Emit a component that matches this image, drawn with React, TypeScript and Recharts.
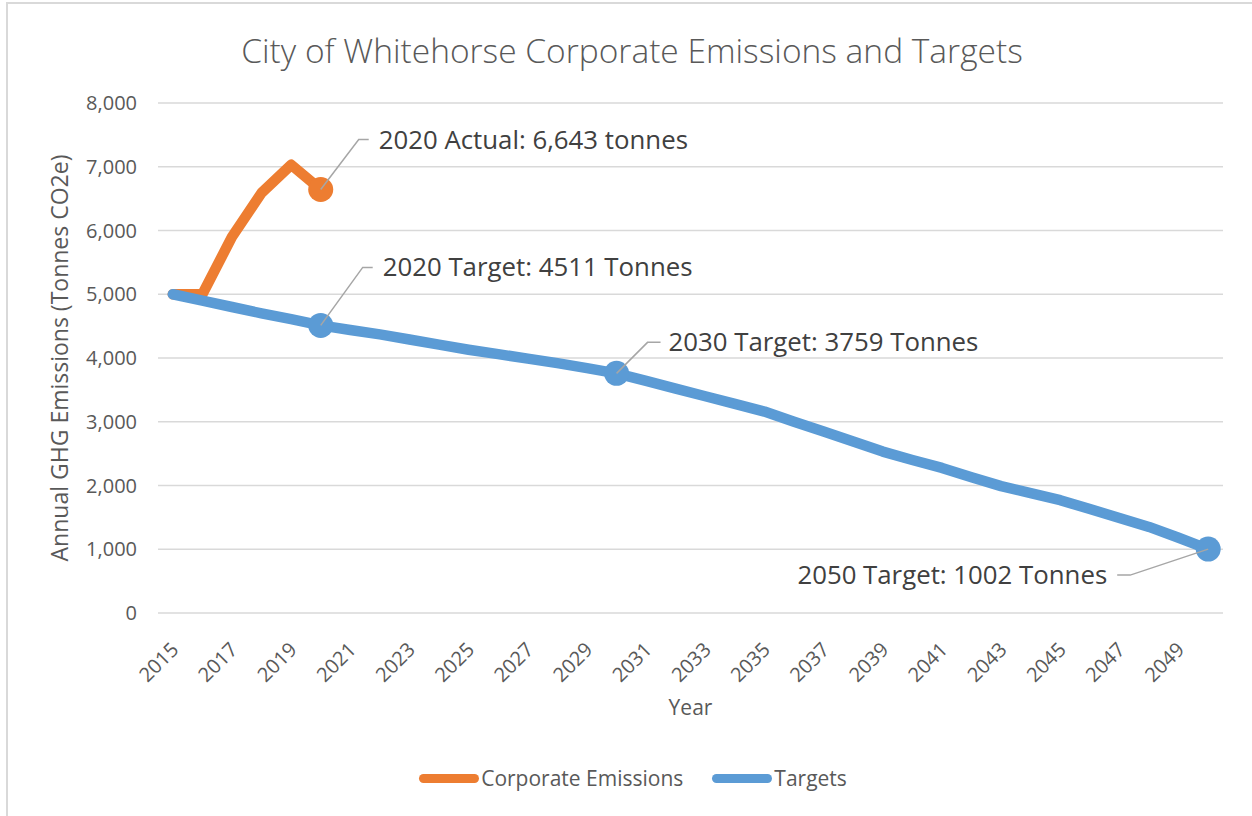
import { LineChart, Line, XAxis, YAxis, CartesianGrid, LabelList } from 'recharts'

// years on the category axis
const years = [
  '2015', '2016', '2017', '2018', '2019', '2020', '2021', '2022', '2023', '2024', '2025', '2026',
  '2027', '2028', '2029', '2030', '2031', '2032', '2033', '2034', '2035', '2036', '2037', '2038',
  '2039', '2040', '2041', '2042', '2043', '2044', '2045', '2046', '2047', '2048', '2049', '2050',
]

// actual corporate emissions (only reported to 2020)
const emissions = [5000, 5000, 5900, 6590, 7030, 6643]

// reduction targets
const targets = [
  5000, 4900, 4800, 4700, 4610, 4511, 4440, 4370, 4290, 4210, 4130, 4060,
  3990, 3920, 3840, 3759, 3640, 3520, 3400, 3280, 3160, 3000, 2846, 2690,
  2532, 2400, 2276, 2130, 1990, 1880, 1770, 1630, 1490, 1350, 1180, 1002,
]

const yTicks = [0, 1000, 2000, 3000, 4000, 5000, 6000, 7000, 8000]

const annotations = [
  { series: 'emissions', year: '2020', text: '2020 Actual: 6,643 tonnes' },
  { series: 'targets', year: '2020', text: '2020 Target: 4511 Tonnes' },
  { series: 'targets', year: '2030', text: '2030 Target: 3759 Tonnes' },
  { series: 'targets', year: '2050', text: '2050 Target: 1002 Tonnes' },
]

const seriesInfo = [
  { key: 'emissions', name: 'Corporate Emissions', color: '#ED7D31' },
  { key: 'targets', name: 'Targets', color: '#5B9BD5' },
]

const data = years.map((year, i) => ({
  year,
  emissions: i < emissions.length ? emissions[i] : null,
  targets: targets[i],
}))

// leader line bends + text offsets, relative to the labelled point
const leaderLayout: Record<string, { p1: number[]; p2: number[]; tx: number; ty: number; anchor: 'start' | 'end' }> = {
  'emissions-2020': { p1: [38, -50], p2: [48, -50], tx: 58, ty: -41, anchor: 'start' },
  'targets-2020': { p1: [42, -58], p2: [52, -58], tx: 62, ty: -49, anchor: 'start' },
  'targets-2030': { p1: [31, -31], p2: [44, -31], tx: 52, ty: -22, anchor: 'start' },
  'targets-2050': { p1: [-78, 26], p2: [-91, 26], tx: -101, ty: 35, anchor: 'end' },
}

const FONT = '"Open Sans", sans-serif'
const TEXT = '#595959'

const isAnnotated = (series: string, index: number) =>
  annotations.some((a) => a.series === series && a.year === years[index])

const makeDot = (series: string, color: string) => (props: any) => {
  const { cx, cy, index } = props
  if (!isAnnotated(series, index) || cx == null || cy == null) return <g key={`d-${series}-${index}`} />
  return <circle key={`d-${series}-${index}`} cx={cx} cy={cy} r={12.5} fill={color} />
}

const makeLabel = (series: string) => (props: any) => {
  const { x, y, index } = props
  const ann = annotations.find((a) => a.series === series && a.year === years[index])
  if (!ann || x == null || y == null) return null
  const l = leaderLayout[`${series}-${ann.year}`]
  return (
    <g>
      <polyline
        points={`${x},${y} ${x + l.p1[0]},${y + l.p1[1]} ${x + l.p2[0]},${y + l.p2[1]}`}
        fill="none"
        stroke="#a6a6a6"
        strokeWidth={1.5}
      />
      <text x={x + l.tx} y={y + l.ty} textAnchor={l.anchor} fontSize={25.8} fontFamily={FONT} fill="#404040">
        {ann.text}
      </text>
    </g>
  )
}

const XTick = ({ x, y, payload }: any) => (
  <text
    x={x + 7}
    y={y + 30}
    transform={`rotate(-45 ${x + 7} ${y + 30})`}
    textAnchor="end"
    fontSize={20}
    fontFamily={FONT}
    fill={TEXT}
  >
    {payload.value}
  </text>
)

const YLabel = ({ viewBox }: any) => {
  const cx = 59
  const cy = viewBox.y + viewBox.height / 2
  return (
    <text x={cx} y={cy} transform={`rotate(-90 ${cx} ${cy})`} textAnchor="middle" dominantBaseline="central" fontSize={23} fontFamily={FONT} fill={TEXT}>
      Annual GHG Emissions (Tonnes CO2e)
    </text>
  )
}

export default function App() {
  return (
    <div style={{ position: 'fixed', left: 0, top: 0, width: 1252, height: 816, background: '#fff', overflow: 'hidden' }}>
      <div style={{ position: 'absolute', left: 6, top: 2, width: 1300, height: 900, borderLeft: '2px solid #d9d9d9', borderTop: '2px solid #d9d9d9' }} />
      <div style={{ position: 'absolute', left: 0, width: 1264, top: 27, textAlign: 'center', fontFamily: FONT, fontSize: 33.5, fontWeight: 300, color: TEXT }}>
        City of Whitehorse Corporate Emissions and Targets
      </div>
      <div style={{ position: 'absolute', left: 0, top: 0 }}>
        <LineChart width={1252} height={816} data={data} margin={{ top: 103, right: 29, left: 58, bottom: 123 }}>
          <CartesianGrid vertical={false} stroke="#d9d9d9" strokeWidth={1.5} />
          <XAxis
            dataKey="year"
            interval={1}
            axisLine={false}
            tickLine={false}
            tick={<XTick />}
            height={80}
            padding={{ left: 14.8, right: 14.8 }}
            label={{ value: 'Year', position: 'insideBottom', offset: -22, fontSize: 21, fontFamily: FONT, fill: TEXT }}
          />
          <YAxis
            domain={[0, 8000]}
            ticks={yTicks}
            width={100}
            axisLine={false}
            tickLine={false}
            tickSize={0}
            tickMargin={21}
            tickFormatter={(v: number) => v.toLocaleString('en-US')}
            tick={{ fontSize: 20, fontFamily: FONT, fill: TEXT }}
            label={<YLabel />}
          />
          {seriesInfo.map((s) => (
            <Line
              key={s.key}
              type="linear"
              dataKey={s.key}
              name={s.name}
              stroke={s.color}
              strokeWidth={10.5}
              strokeLinecap="round"
              strokeLinejoin="round"
              dot={makeDot(s.key, s.color)}
              activeDot={false}
              isAnimationActive={false}
            >
              <LabelList dataKey={s.key} content={makeLabel(s.key)} />
            </Line>
          ))}
        </LineChart>
      </div>
      <div style={{ position: 'absolute', top: 764, left: 0, width: 1266, display: 'flex', justifyContent: 'center', gap: 29, fontFamily: FONT, fontSize: 21, color: TEXT }}>
        {seriesInfo.map((s) => (
          <div key={s.key} style={{ display: 'flex', alignItems: 'center' }}>
            <span style={{ display: 'inline-block', width: 60, height: 9, borderRadius: 5, background: s.color, marginRight: 2 }} />
            <span>{s.name}</span>
          </div>
        ))}
      </div>
    </div>
  )
}
